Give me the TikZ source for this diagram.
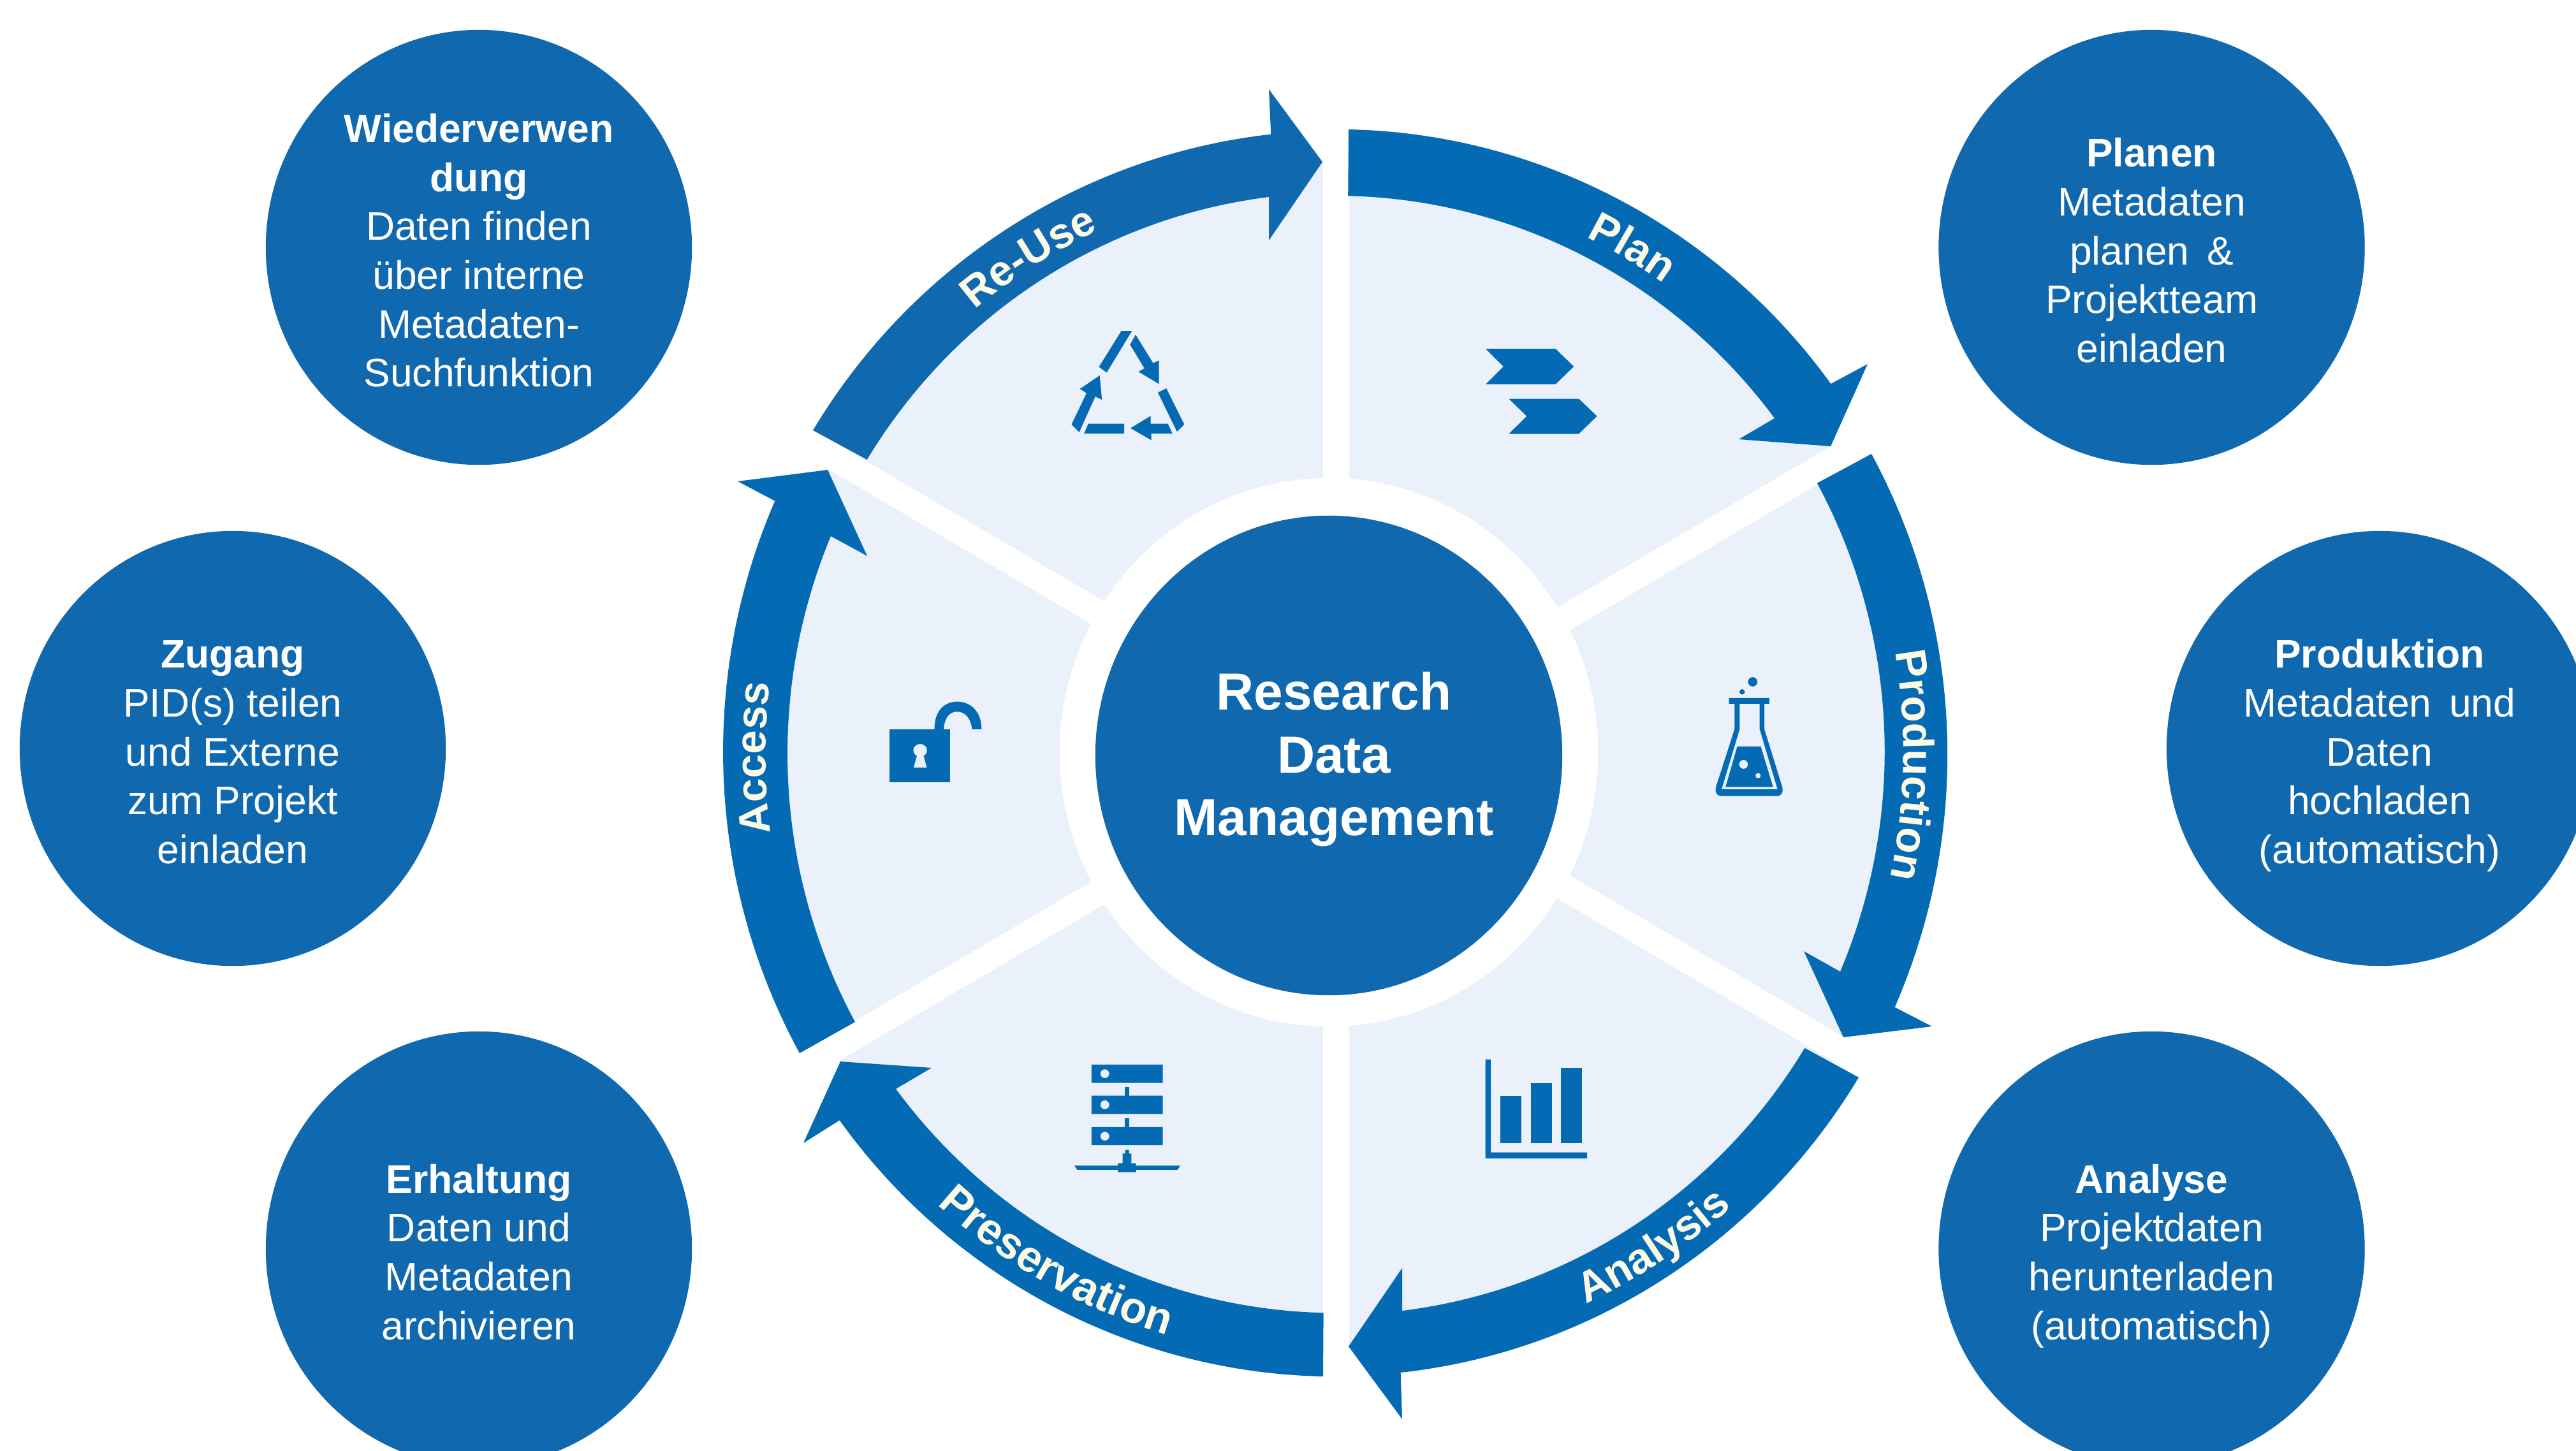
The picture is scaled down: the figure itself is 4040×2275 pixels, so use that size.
\documentclass[tikz,border=0pt]{standalone}
\usepackage{fontspec}
\setmainfont{Liberation Sans}
\usetikzlibrary{shapes.geometric,decorations.text}
\definecolor{bandblue}{HTML}{036AB3}
\definecolor{reuseblue}{HTML}{1069AE}
\definecolor{bubbleblue}{HTML}{1068AE}
\definecolor{lightblue}{HTML}{EAF1FA}
\definecolor{bandtext}{HTML}{FDFBE6}
\newcommand\bubblefont{\fontsize{17.75}{21.8}\selectfont}
\newcommand\hubfont{\fontsize{23.3}{27.9}\selectfont\bfseries}
\newcommand\bandfont[1]{\fontsize{#1}{21}\selectfont\bfseries\color{bandtext}}
\newcommand\topstrut{\rule{0pt}{.69cm}}
\newcommand\bandlabel[6]{%
  \path[decorate,decoration={text along path,text align=center,text={|\bandfont{#6}|#1}}]
    ([shift={(#2:#4cm and #5cm)}]wheel) arc[start angle=#2,end angle=#3,x radius=#4cm,y radius=#5cm];}
\tikzset{
  bubble/.style={ellipse,fill=bubbleblue,text=white,minimum width=6.68cm,minimum height=6.82cm,inner sep=0pt,align=center,font=\bubblefont,
    execute at end node={\rule[-.15cm]{0pt}{.15cm}}},
  hubnode/.style={ellipse,fill=bubbleblue,minimum width=7.32cm,minimum height=7.52cm,inner sep=0pt},
  hubtext/.style={text=white,align=center,font=\hubfont,inner sep=0pt},
  bandshape/.style={fill=bandblue},
  icon/.style={fill=bandblue},
  gap/.style={draw=white,line width=0.41cm},
  outerarc/.style={x radius=9.63cm,y radius=9.78cm},
  innerarc/.style={x radius=8.62cm,y radius=8.76cm},
}
\begin{document}
\begin{tikzpicture}[x=0.01cm,y=-0.01cm]
\fill[white] (0,0) rectangle (4040,2275);
\useasboundingbox (0,0) rectangle (4040,2275);
\coordinate (wheel) at (2095,1181);
% light disc and white gaps
\fill[lightblue] (wheel) ellipse[x radius=9.12cm,y radius=9.26cm];
\draw[gap] (1095,592) -- (3095,1770);
\draw[gap] (1095,1770) -- (3095,592);
\draw[gap] (2095,100) -- (2095,2260);
\fill[white] (2084,1180) ellipse[x radius=4.22cm,y radius=4.30cm];
% bands
\fill[bandshape] (2115,203) arc[start angle=88.8,end angle=36.3,outerarc] -- (2929,571) -- (2871,700) -- (2727,689) -- (2783,656) arc[start angle=37.0,end angle=88.67,innerarc] -- cycle;
\fill[bandshape] (2935,712) arc[start angle=28.8,end angle=-23.9,outerarc] -- (3030,1610) -- (2891,1627) -- (2829,1492) -- (2886,1524) arc[start angle=-23.2,end angle=28.7,innerarc] -- cycle;
\fill[bandshape] (2915,1690) arc[start angle=-31.4,end angle=-83.8,outerarc] -- (2199,2226) -- (2115,2112) -- (2199,1989) -- (2199,2056) arc[start angle=-83.07,end angle=-31.5,innerarc] -- cycle;
\fill[bandshape] (2075,2159) arc[start angle=-91.2,end angle=-143.9,outerarc] -- (1260,1793) -- (1318,1665) -- (1461,1675) -- (1405,1708) arc[start angle=-143.2,end angle=-91.33,innerarc] -- cycle;
\fill[bandshape] (1254,1652) arc[start angle=208.9,end angle=156.3,outerarc] -- (1157,755) -- (1298,737) -- (1360,872) -- (1303,841) arc[start angle=157.1,end angle=208.7,innerarc] -- cycle;
\fill[reuseblue] (1275,675) arc[start angle=148.7,end angle=96.26,outerarc] -- (1990,140) -- (2074,254) -- (1990,377) -- (1990,309) arc[start angle=97,end angle=148.5,innerarc] -- cycle;
% band labels
\bandlabel{Plan}{99.4}{19.4}{8.88}{9.02}{19.1}
\bandlabel{Production}{38.8}{-41.2}{8.90}{9.04}{19.2}
\bandlabel{Analysis}{-97}{-17}{9.36}{9.51}{19.1}
\bandlabel{Preservation}{201}{281}{9.36}{9.51}{19.6}
\bandlabel{Access}{220.5}{140.5}{8.94}{9.08}{19.1}
\bandlabel{Re-Use}{162}{82}{8.88}{9.02}{19.1}
% icons: recycling
\begin{scope}[shift={(1200,100)},x=0.00574cm,y=-0.004464cm]
\fill[icon] (973,937) -- (1002,937) -- (933,1083) -- (912,1063) -- cycle;
\fill[icon] (1012,950) -- (1060,1050) -- (1076,1040) -- (1076,1123) -- (1020,1080) -- (1036,1068) -- (997,985) -- cycle;
\fill[icon] (1096,1138) -- (1145,1265) -- (1125,1290) -- (1073,1153) -- cycle;
\fill[icon] (1113,1297) -- (1055,1297) -- (1055,1320) -- (998,1278) -- (1053,1235) -- (1053,1262) -- (1100,1262) -- cycle;
\fill[icon] (883,1262) -- (981,1262) -- (981,1297) -- (871,1297) -- cycle;
\fill[icon] (858,1292) -- (837,1265) -- (878,1155) -- (860,1140) -- (914,1093) -- (920,1178) -- (902,1167) -- cycle;
\end{scope}
% icons: chevrons
\begin{scope}[shift={(2050,150)},x=0.00606cm,y=-0.004464cm]
\fill[icon] (462,888) -- (643,888) -- (690,950) -- (643,1012) -- (462,1012) -- (508,950) -- cycle;
\fill[icon] (522,1063) -- (703,1063) -- (750,1124) -- (703,1186) -- (522,1186) -- (568,1124) -- cycle;
\end{scope}
% icons: flask
\begin{scope}[shift={(2550,950)},x=0.003507cm,y=-0.004783cm]
\fill[icon,even odd rule] (460,303) -- (640,303) -- (640,322) -- (618,322) -- (618,405) -- (698,595) .. controls (705,615) and (690,625) .. (675,625) -- (425,625) .. controls (410,625) and (395,615) .. (402,595) -- (485,405) -- (485,322) -- (460,322) -- cycle
  (508,322) -- (508,405) -- (427,603) -- (677,603) -- (597,405) -- (597,322) -- cycle;
\fill[icon,even odd rule] (497,462) -- (602,462) -- (657,595) -- (445,595) -- cycle
  (525,521) circle[radius=0.07cm] (590,558) circle[radius=0.042cm];
\fill[icon] (566,250) circle[radius=0.073cm];
\fill[icon] (519,283) circle[radius=0.042cm];
\end{scope}
% icons: bar chart
\begin{scope}[shift={(2050,1550)},x=0.00574cm,y=-0.004464cm]
\fill[icon] (487,250) -- (502,250) -- (502,576) -- (765,576) -- (765,597) -- (487,597) -- cycle;
\fill[icon] (528,377) rectangle (585,543);
\fill[icon] (611,333) rectangle (668,543);
\fill[icon] (694,280) rectangle (751,543);
\end{scope}
% icons: server
\begin{scope}[shift={(1240,1550)},x=0.005485cm,y=-0.004464cm]
\fill[icon,even odd rule] (861,268) rectangle (1065,332) (899,300) circle[radius=0.07cm];
\fill[icon,even odd rule] (861,377) rectangle (1065,441) (899,409) circle[radius=0.07cm];
\fill[icon,even odd rule] (861,487) rectangle (1065,550) (899,519) circle[radius=0.07cm];
\fill[icon] (956,346) rectangle (968,377);
\fill[icon] (956,456) rectangle (968,487);
\fill[icon] (957,567) -- (968,567) -- (968,580) -- (975,580) -- (975,614) -- (988,614) -- (988,622) -- (1115,622) -- (1107,637) -- (988,637) -- (988,645) -- (936,645) -- (936,637) -- (820,637) -- (812,622) -- (936,622) -- (936,614) -- (950,614) -- (950,580) -- (957,580) -- cycle;
\end{scope}
% icons: open lock
\begin{scope}[shift={(1120,700)},x=0.003333cm,y=-0.00625cm]
\fill[icon] (827,709) rectangle (1112,842);
\fill[icon] (1038,709) .. controls (1038,660) and (1090,640) .. (1145,640) .. controls (1210,640) and (1260,665) .. (1260,709) -- (1215,709) .. controls (1210,680) and (1180,665) .. (1145,665) .. controls (1110,665) and (1085,680) .. (1082,709) -- cycle;
\fill[lightblue] (971,762) ellipse[x radius=0.107cm,y radius=0.1cm];
\fill[lightblue] (958,772) -- (985,772) -- (1002,805) -- (940,805) -- cycle;
\end{scope}
% hub
\node[hubnode] (hub) at (2084,1185) {};
\node[hubtext] (hubt) at (2092,1191) {Research\\Data\\Management};
% bubbles
\node[bubble] (reuse) at (751,388) {\topstrut\textbf{Wiederverwen}\\\textbf{dung}\\Daten finden\\über interne\\Metadaten-\\Suchfunktion};
\node[bubble] (plan) at (3374.5,388) {\topstrut\textbf{Planen}\\Metadaten\\planen \,\&\\Projektteam\\einladen};
\node[bubble] (access) at (365,1174) {\topstrut\textbf{Zugang}\\PID(s) teilen\\und Externe\\zum Projekt\\einladen};
\node[bubble] (prod) at (3732,1174) {\topstrut\textbf{Produktion}\\Metadaten \,und\\Daten\\hochladen\\(automatisch)};
\node[bubble] (pres) at (751,1959) {\topstrut\textbf{Erhaltung}\\Daten und\\Metadaten\\archivieren};
\node[bubble] (anal) at (3374.5,1959) {\topstrut\textbf{Analyse}\\Projektdaten\\herunterladen\\(automatisch)};
\end{tikzpicture}
\end{document}
